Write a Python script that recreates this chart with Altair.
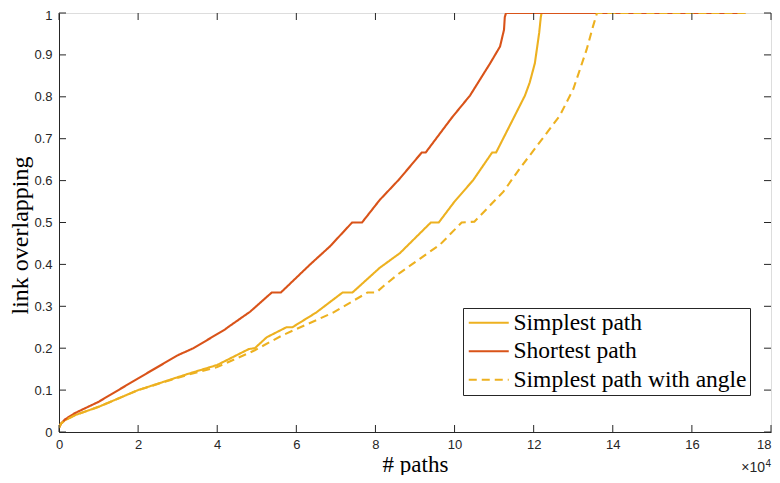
import altair as alt
import pandas as pd

series_names = ["Simplest path", "Shortest path", "Simplest path with angle"]
series_colors = ["#EDB120", "#D95319", "#EDB120"]

# x in units of 1e4 paths
simplest_x = [0, 0.05, 0.15, 0.4, 1.0, 2.0, 3.27, 4.0, 4.8, 4.95, 5.25, 5.75, 5.9, 6.5, 7.17, 7.42,
              8.11, 8.62, 9.4, 9.6, 10.0, 10.47, 10.95, 11.05, 11.48, 11.78, 11.9, 12.03, 12.14,
              12.18, 12.2, 17.35]
simplest_y = [0.01, 0.02, 0.028, 0.04, 0.06, 0.1, 0.139, 0.16, 0.198, 0.2, 0.226, 0.25, 0.25, 0.285,
              0.333, 0.333, 0.392, 0.427, 0.5, 0.5, 0.55, 0.601, 0.667, 0.667, 0.747, 0.803, 0.834,
              0.88, 0.953, 0.99, 1.0, 1.0]

shortest_x = [0, 0.05, 0.15, 0.4, 1.0, 2.0, 3.0, 3.35, 3.4, 4.2, 4.3, 4.83, 5.38, 5.61, 6.35, 6.85,
              7.41, 7.66, 8.11, 8.6, 9.17, 9.27, 9.93, 10.39, 10.9, 11.15, 11.25, 11.27, 11.3, 17.35]
shortest_y = [0.01, 0.02, 0.03, 0.045, 0.072, 0.128, 0.183, 0.198, 0.2, 0.245, 0.252, 0.287, 0.333,
              0.333, 0.40, 0.443, 0.5, 0.5, 0.554, 0.603, 0.667, 0.667, 0.75, 0.803, 0.88, 0.92,
              0.96, 0.99, 1.0, 1.0]

angle_x = [0, 0.05, 0.15, 0.4, 1.0, 2.0, 3.27, 4.0, 4.95, 5.63, 6.93, 7.8, 8.02, 8.2, 8.62, 9.13,
           9.63, 10.18, 10.5, 11.23, 11.65, 11.9, 12.66, 13.0, 13.34, 13.5, 13.57, 13.6, 17.35]
angle_y = [0.01, 0.02, 0.028, 0.04, 0.06, 0.1, 0.137, 0.155, 0.195, 0.23, 0.285, 0.333, 0.333,
           0.348, 0.38, 0.414, 0.447, 0.5, 0.502, 0.573, 0.629, 0.66, 0.755, 0.818, 0.913, 0.968,
           0.99, 1.0, 1.0]

x_ticks = [0, 2, 4, 6, 8, 10, 12, 14, 16, 18]
y_ticks = [0, 0.1, 0.2, 0.3, 0.4, 0.5, 0.6, 0.7, 0.8, 0.9, 1.0]

W, H = 712, 419
AX = "#262626"
SERIF = "Liberation Serif"
SANS = "Liberation Sans"

def frame(name, xs, ys):
    return pd.DataFrame({"series": name, "x": xs, "y": ys})

df_s = frame(series_names[0], simplest_x, simplest_y)
df_r = frame(series_names[1], shortest_x, shortest_y)
df_a = frame(series_names[2], angle_x, angle_y)

xscale = alt.Scale(domain=[0, 18], nice=False, zero=False)
yscale = alt.Scale(domain=[0, 1], nice=False, zero=False)

xaxis = alt.Axis(values=x_ticks, ticks=False, grid=False, domainColor=AX, labelColor=AX,
                 labelFont=SANS, labelFontSize=13, labelPadding=6, format="d",
                 labelAlign={"condition": {"test": "datum.value == 18", "value": "right"},
                             "value": "center"},
                 title="# paths", titleFont=SERIF, titleFontSize=23,
                 titleFontWeight="normal", titleColor="black",
                 titleX=W / 2, titleY=39, titleAlign="center", titleBaseline="alphabetic")
yaxis = alt.Axis(values=y_ticks, ticks=False, grid=False, domainColor=AX, labelColor=AX,
                 labelFont=SANS, labelFontSize=13, labelPadding=7,
                 labelOffset={"condition": {"test": "datum.value == 1", "value": 2},
                              "value": 0},
                 labelExpr="datum.value == 0 ? '0' : datum.value == 1 ? '1' : format(datum.value, '.1f')",
                 title="link overlapping", titleFont=SERIF, titleFontSize=24,
                 titleFontWeight="normal", titleColor="black",
                 titleX=-39, titleY=222, titleAngle=270, titleAlign="center",
                 titleBaseline="middle")

color = alt.Color("series:N", scale=alt.Scale(domain=series_names, range=series_colors),
                  legend=alt.Legend(title=None, orient="none", legendX=404, legendY=295,
                                    symbolType="M-2,0H2", symbolSize=400, symbolStrokeWidth=2,
                                    symbolOffset=11,
                                    labelFont=SERIF, labelFontSize=23.5, labelColor="black",
                                    labelOffset=13, padding=3, rowPadding=3.5, strokeColor=AX,
                                    fillColor="white", labelLimit=400))
dash = alt.StrokeDash("series:N", scale=alt.Scale(domain=series_names,
                                                   range=[[1, 0], [1, 0], [8, 5]]),
                      legend=alt.Legend(title=None))

def line(df):
    return alt.Chart(df).mark_line(strokeWidth=2.1, clip=True).encode(
        x=alt.X("x:Q", scale=xscale, axis=xaxis),
        y=alt.Y("y:Q", scale=yscale, axis=yaxis),
        color=color, strokeDash=dash)

xt = pd.DataFrame({"t": x_ticks})
yt = pd.DataFrame({"t": y_ticks})
tick_b = alt.Chart(xt).mark_rule(color=AX, strokeWidth=1).encode(
    x=alt.X("t:Q", scale=xscale), y=alt.value(H), y2=alt.value(H - 7))
tick_t = alt.Chart(xt).mark_rule(color=AX, strokeWidth=1).encode(
    x=alt.X("t:Q", scale=xscale), y=alt.value(0), y2=alt.value(7))
tick_l = alt.Chart(yt).mark_rule(color=AX, strokeWidth=1).encode(
    y=alt.Y("t:Q", scale=yscale), x=alt.value(0), x2=alt.value(7))
tick_r = alt.Chart(yt).mark_rule(color=AX, strokeWidth=1).encode(
    y=alt.Y("t:Q", scale=yscale), x=alt.value(W), x2=alt.value(W - 7))

exp_base = alt.Chart(pd.DataFrame({"t": ["×10"]})).mark_text(
    font=SANS, fontSize=14, color=AX, align="right", baseline="alphabetic").encode(
    x=alt.value(706), y=alt.value(459), text="t:N")
exp_pow = alt.Chart(pd.DataFrame({"t": ["4"]})).mark_text(
    font=SANS, fontSize=10, color=AX, align="left", baseline="alphabetic").encode(
    x=alt.value(706.5), y=alt.value(454), text="t:N")

chart = alt.layer(line(df_s), line(df_r), line(df_a), tick_b, tick_t, tick_l, tick_r,
                  exp_base, exp_pow).properties(
    width=W, height=H,
    autosize=alt.AutoSizeParams(type="none"),
    padding={"left": 51, "top": 5, "right": 1, "bottom": 43},
).configure_view(stroke=AX, strokeWidth=1).configure(background="white")

chart.save("out.html", embed_options={"renderer": "svg", "actions": False})
